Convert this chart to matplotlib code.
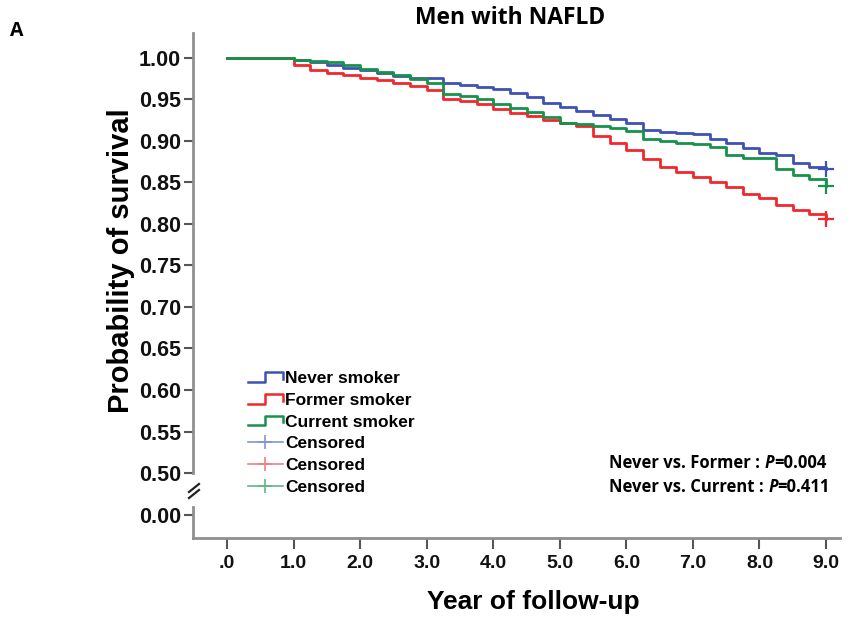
import matplotlib
matplotlib.use('Agg')
import matplotlib.pyplot as plt
from matplotlib.lines import Line2D
from matplotlib import font_manager

# Kaplan-Meier estimates (years, survival probability)
years = [0.0, 0.25, 0.5, 0.75, 1.0, 1.25, 1.5, 1.75, 2.0, 2.25, 2.5, 2.75, 3.0,
         3.25, 3.5, 3.75, 4.0, 4.25, 4.5, 4.75, 5.0, 5.25, 5.5, 5.75, 6.0,
         6.25, 6.5, 6.75, 7.0, 7.25, 7.5, 7.75, 8.0, 8.25, 8.5, 8.75, 9.0]
never = [1.000, 1.000, 1.000, 1.000, 0.998, 0.995, 0.991, 0.988, 0.985, 0.982, 0.978, 0.976, 0.976,
         0.970, 0.967, 0.965, 0.962, 0.958, 0.953, 0.946, 0.941, 0.936, 0.931, 0.926, 0.921,
         0.913, 0.911, 0.910, 0.908, 0.902, 0.897, 0.891, 0.885, 0.883, 0.874, 0.868, 0.866]
former = [1.000, 1.000, 1.000, 1.000, 0.991, 0.985, 0.982, 0.979, 0.976, 0.973, 0.970, 0.966, 0.961,
          0.950, 0.948, 0.945, 0.938, 0.934, 0.930, 0.925, 0.921, 0.918, 0.906, 0.897, 0.889,
          0.878, 0.868, 0.862, 0.856, 0.851, 0.844, 0.836, 0.831, 0.823, 0.817, 0.812, 0.806]
current = [1.000, 1.000, 1.000, 1.000, 0.997, 0.996, 0.995, 0.991, 0.987, 0.983, 0.979, 0.975, 0.970,
           0.957, 0.954, 0.950, 0.945, 0.940, 0.935, 0.929, 0.922, 0.920, 0.918, 0.916, 0.912,
           0.902, 0.900, 0.898, 0.896, 0.893, 0.883, 0.880, 0.879, 0.866, 0.859, 0.854, 0.846]

groups = ['Never smoker', 'Former smoker', 'Current smoker']
colors = ['#3d52b4', '#f0282d', '#16924a']
light = ['#8593d8', '#f47f82', '#63b587']

x_ticks = [0, 1, 2, 3, 4, 5, 6, 7, 8, 9]
x_labels = ['.0', '1.0', '2.0', '3.0', '4.0', '5.0', '6.0', '7.0', '8.0', '9.0']
y_ticks = [0.50, 0.55, 0.60, 0.65, 0.70, 0.75, 0.80, 0.85, 0.90, 0.95, 1.00]

fonts = font_manager.fontManager.ttflist
names = {f.name for f in fonts}
base = 'Liberation Sans' if 'Liberation Sans' in names else 'DejaVu Sans'
narrow = 'Liberation Sans Narrow' if 'Liberation Sans Narrow' in names else base
cal = base
for fam in ['Open Sans', 'Noto Sans', 'Lato']:
    if any(f.name == fam and f.weight in (700, 'bold') for f in fonts):
        cal = fam
        break
plt.rcParams['font.family'] = [base, 'DejaVu Sans']

spine_c = '#8f8f8f'
tick_c = '#555555'


class StepHandler:
    def legend_artist(self, legend, orig_handle, fontsize, handlebox):
        x0, y0 = -handlebox.xdescent, -handlebox.ydescent
        w, h = handlebox.width, handlebox.height
        xs = [x0, x0 + 0.5 * w, x0 + 0.5 * w, x0 + w, x0 + w]
        ys = [y0 + 0.1 * h, y0 + 0.1 * h, y0 + 0.9 * h, y0 + 0.9 * h, y0 + 0.35 * h]
        ln = Line2D(xs, ys, color=orig_handle.get_color(), lw=1.8,
                    transform=handlebox.get_transform())
        handlebox.add_artist(ln)
        return ln


fig = plt.figure(figsize=(8.57, 6.18), dpi=100)
ax = fig.add_axes([0.2252, 0.2346, 0.755, 0.712])
ax2 = fig.add_axes([0.2252, 0.1294, 0.755, 0.0502])

for vals, c in zip([never, former, current], colors):
    ax.plot(years, vals, drawstyle='steps-post', color=c, lw=2.0)
    ax.plot(years[-1], vals[-1], marker='+', ms=11, mew=1.6, color=c)

ax.set_xlim(-0.511, 9.21)
ax2.set_xlim(-0.511, 9.21)
ax.set_ylim(0.50, 1.030)
ax2.set_ylim(-0.0277, 0.0096)

for a in (ax, ax2):
    a.spines['top'].set_visible(False)
    a.spines['right'].set_visible(False)
    a.spines['left'].set_color(spine_c)
    a.spines['left'].set_linewidth(2)
    a.tick_params(axis='y', length=6.5, width=1.5, color=tick_c, pad=2,
                  labelsize=15.5, labelcolor='#111111')
ax.spines['bottom'].set_visible(False)
ax.tick_params(axis='x', bottom=False, labelbottom=False)
ax.set_yticks(y_ticks)
ax.set_yticklabels(['%.2f' % v for v in y_ticks], fontweight='bold')

ax2.spines['bottom'].set_color(spine_c)
ax2.spines['bottom'].set_linewidth(2)
ax2.set_yticks([0.0])
ax2.set_yticklabels(['0.00'], fontweight='bold')
ax2.set_xticks(x_ticks)
ax2.set_xticklabels(x_labels, fontweight='bold', family=narrow)
ax2.tick_params(axis='x', length=8, width=1.5, color=tick_c, pad=4,
                labelsize=14, labelcolor='#111111')

# axis break mark
for dy in (0, 6):
    fig.add_artist(Line2D([189 / 857, 199 / 857],
                          [1 - (498 + dy - 6) / 618, 1 - (490 + dy - 6) / 618],
                          color='#222222', lw=1.6, transform=fig.transFigure))

fig.text(121 / 857, 1 - 261 / 618, 'Probability of survival', rotation=90,
         ha='center', va='center', fontsize=21, fontweight='bold')
fig.text(533 / 857, 1 - 602 / 618, 'Year of follow-up', ha='center', va='center',
         fontsize=19, fontweight='bold', family=narrow)
fig.text(510 / 857, 1 - 18 / 618, 'Men with NAFLD', ha='center', va='center',
         fontsize=16.5, fontweight='bold', family=cal)
fig.text(17 / 857, 1 - 31 / 618, 'A', ha='center', va='center',
         fontsize=14, fontweight='bold', family=cal)

# p-values
for i, (lab, p) in enumerate([('Never vs. Former : ', '0.004'),
                              ('Never vs. Current : ', '0.411')]):
    t1 = fig.text(609 / 857, 1 - (463 + 24 * i) / 618, lab, ha='left', va='center',
                  fontsize=12, fontweight='bold', family=cal)
    t2 = fig.text(0, 0, 'P', transform=None, fontsize=12, fontweight='bold',
                  style='italic', family=cal)
    fig.canvas.draw()
    bb = t1.get_window_extent()
    t2.set_position((bb.x1, bb.y0))
    t2.set_va('bottom')
    bb2 = t2.get_window_extent()
    fig.text(bb2.x1, bb.y0, '=' + p, transform=None, va='bottom', fontsize=12,
             fontweight='bold', family=cal)

handles = [Line2D([], [], color=c) for c in colors]
handles += [Line2D([0, 1], [0, 0], color=c, lw=1.2, marker='+', ms=10, mew=1.2)
            for c in light]
labels = groups + ['Censored'] * 3
hmap = {h: StepHandler() for h in handles[:3]}
fig.legend(handles, labels, handler_map=hmap, loc='upper left',
           bbox_to_anchor=(248 / 857, 1 - 371 / 618), frameon=False,
           prop={'weight': 'bold', 'size': 12.5}, handlelength=2.0,
           handletextpad=0.15, labelspacing=0.38, borderpad=0, borderaxespad=0)

fig.savefig('out.png', dpi=100)
